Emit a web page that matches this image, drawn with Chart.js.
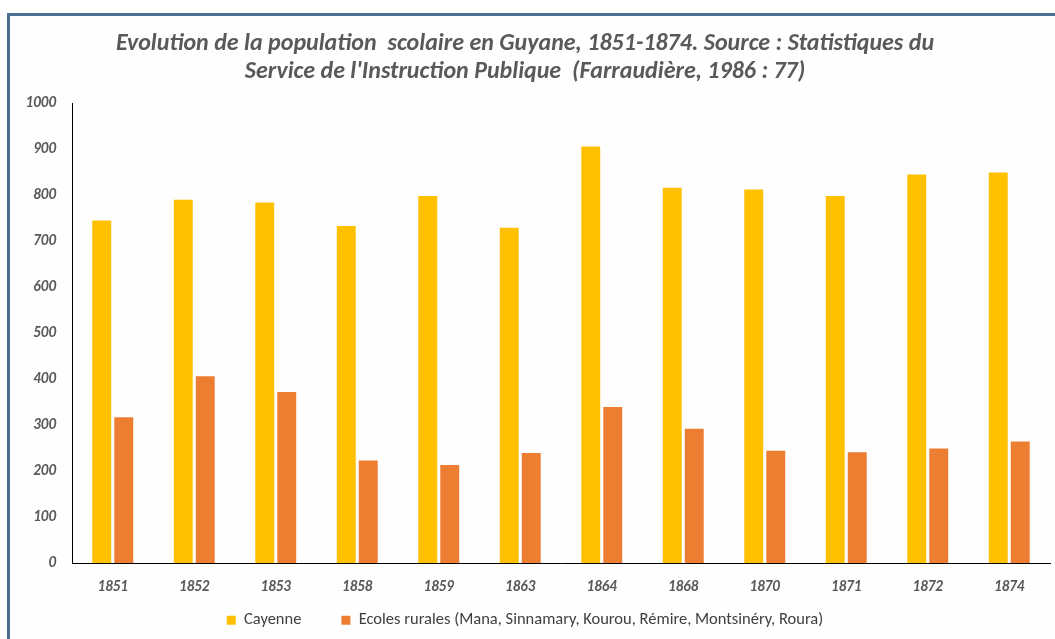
<!DOCTYPE html>
<html>
<head>
<meta charset="utf-8">
<script src="https://cdn.jsdelivr.net/npm/chart.js@4"></script>
<style>
  html, body { margin: 0; padding: 0; background: #ffffff; overflow: hidden; }
  #frame {
    position: absolute; left: 7px; top: 13px; width: 1100px; height: 700px;
    border-top: 3px solid #4d6e91; border-left: 3px solid #4d6e91;
    background: #fefefe;
  }
  #target-chart { position: absolute; left: 0; top: 0; }
</style>
</head>
<body>
<div id="frame"></div>
<canvas id="target-chart" width="1055" height="639"></canvas>
<script>
'use strict';

// années (catégories)
const years = ['1851', '1852', '1853', '1858', '1859', '1863', '1864', '1868', '1870', '1871', '1872', '1874'];
// élèves à Cayenne
const cayenne = [745, 790, 784, 733, 798, 729, 906, 816, 812, 798, 845, 849];
// élèves des écoles rurales
const rurales = [317, 406, 372, 223, 213, 239, 339, 292, 244, 241, 249, 264];
const series_labels = ['Cayenne', 'Ecoles rurales (Mana, Sinnamary, Kourou, Rémire, Montsinéry, Roura)'];
const title_lines = [
  "Evolution de la population  scolaire en Guyane, 1851-1874. Source : Statistiques du",
  "Service de l'Instruction Publique  (Farraudière, 1986 : 77)"
];

const grey = '#595959';
const fam = 'Carlito, "Liberation Sans Narrow", "Open Sans", sans-serif';

// la légende est plus bas que sa boîte : on agrandit la zone de dessin
const legendPlace = {
  id: 'legendPlace',
  afterLayout(chart) {
    const lg = chart.legend;
    lg.top = 572;
    lg.bottom = 639;
  }
};

const ctx = document.querySelector('#target-chart').getContext('2d');
const chart = new Chart(ctx, {
  type: 'bar',
  data: {
    labels: years,
    datasets: [
      { label: series_labels[0], data: cayenne, backgroundColor: '#ffc000',
        barPercentage: 0.86, categoryPercentage: 0.54 },
      { label: series_labels[1], data: rurales, backgroundColor: '#ed7d31',
        barPercentage: 0.86, categoryPercentage: 0.54 }
    ]
  },
  options: {
    responsive: false,
    animation: false,
    layout: { padding: { left: 0, right: 5, top: 0, bottom: 0 } },
    plugins: {
      title: {
        display: true,
        text: title_lines,
        color: grey,
        font: { family: fam, size: 24, weight: 'bold', style: 'italic', lineHeight: 1.17 },
        padding: { top: 30, bottom: 17 }
      },
      legend: {
        position: 'bottom',
        maxHeight: 40,
        labels: {
          color: '#404040',
          font: { family: fam, size: 16.5 },
          boxWidth: 9, boxHeight: 9,
          padding: 40
        }
      },
      tooltip: { enabled: false }
    },
    scales: {
      x: {
        grid: { display: false, drawTicks: false },
        border: { color: '#000000', width: 1 },
        ticks: { color: grey, padding: 15, maxRotation: 0, font: { family: fam, size: 15, weight: 'bold', style: 'italic' } },
        afterFit(scale) { scale.height = 36; }
      },
      y: {
        min: 0, max: 1000,
        grid: { display: false, drawTicks: false },
        border: { color: '#000000', width: 1 },
        ticks: { stepSize: 100, color: grey, padding: 16, callback: v => String(v),
                 font: { family: fam, size: 15, weight: 'bold', style: 'italic' } },
        afterFit(scale) { scale.width = 72; }
      }
    }
  },
  plugins: [legendPlace]
});
</script>
</body>
</html>
